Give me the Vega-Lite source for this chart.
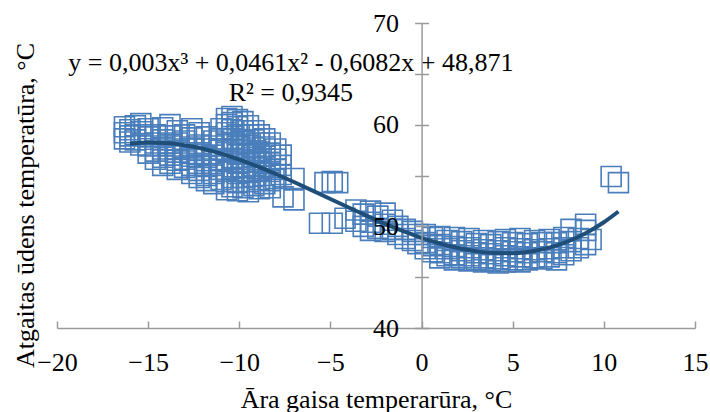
{
"$schema": "https://vega.github.io/schema/vega-lite/v6.json",
"width": 638, "height": 305,
"autosize": "none",
"padding": {"left": 57, "top": 23, "right": 15, "bottom": 84},
"background": "white",
"config": {"view": {"stroke": null}, "font": "Liberation Serif, Times New Roman, DejaVu Serif, serif"},
"datasets": {
"pts": [
{"x":-16.3,"y":59.2},{"x":-16.3,"y":58.6},{"x":-16.3,"y":59.8},
{"x":-16.0,"y":59.5},{"x":-16.0,"y":58.9},{"x":-16.0,"y":58.3},
{"x":-15.7,"y":59.9},{"x":-15.7,"y":59.0},{"x":-15.7,"y":58.5},
{"x":-15.4,"y":59.3},{"x":-15.4,"y":58.0},{"x":-15.4,"y":60.1},
{"x":-15.0,"y":59.6},{"x":-15.0,"y":58.8},{"x":-15.0,"y":57.9},{"x":-15.0,"y":57.2},
{"x":-14.6,"y":59.0},{"x":-14.6,"y":58.2},{"x":-14.6,"y":57.4},{"x":-14.6,"y":56.6},
{"x":-14.2,"y":59.7},{"x":-14.2,"y":58.5},{"x":-14.2,"y":57.6},{"x":-14.2,"y":56.8},{"x":-14.2,"y":56.0},
{"x":-13.8,"y":60.0},{"x":-13.8,"y":58.9},{"x":-13.8,"y":57.9},{"x":-13.8,"y":57.0},{"x":-13.8,"y":56.2},
{"x":-13.4,"y":59.4},{"x":-13.4,"y":58.2},{"x":-13.4,"y":57.3},{"x":-13.4,"y":56.5},{"x":-13.4,"y":55.6},
{"x":-13.0,"y":59.0},{"x":-13.0,"y":58.4},{"x":-13.0,"y":57.6},{"x":-13.0,"y":56.6},{"x":-13.0,"y":55.8},
{"x":-12.6,"y":59.6},{"x":-12.6,"y":58.7},{"x":-12.6,"y":57.8},{"x":-12.6,"y":56.9},{"x":-12.6,"y":56.0},{"x":-12.6,"y":55.2},
{"x":-12.2,"y":59.2},{"x":-12.2,"y":58.0},{"x":-12.2,"y":57.1},{"x":-12.2,"y":56.2},{"x":-12.2,"y":55.5},{"x":-12.2,"y":54.8},
{"x":-11.8,"y":58.8},{"x":-11.8,"y":57.6},{"x":-11.8,"y":56.8},{"x":-11.8,"y":55.9},{"x":-11.8,"y":55.0},{"x":-11.8,"y":54.5},
{"x":-11.4,"y":58.4},{"x":-11.4,"y":57.9},{"x":-11.4,"y":57.0},{"x":-11.4,"y":56.0},{"x":-11.4,"y":55.2},{"x":-11.4,"y":54.2},
{"x":-11.0,"y":59.6},{"x":-11.0,"y":58.6},{"x":-11.0,"y":57.5},{"x":-11.0,"y":56.5},{"x":-11.0,"y":55.6},{"x":-11.0,"y":54.6},
{"x":-10.7,"y":60.6},{"x":-10.7,"y":60.0},{"x":-10.7,"y":59.2},{"x":-10.7,"y":58.2},{"x":-10.7,"y":57.3},{"x":-10.7,"y":56.4},{"x":-10.7,"y":55.4},{"x":-10.7,"y":54.4},{"x":-10.7,"y":53.6},
{"x":-10.4,"y":60.8},{"x":-10.4,"y":60.2},{"x":-10.4,"y":59.5},{"x":-10.4,"y":58.6},{"x":-10.4,"y":57.6},{"x":-10.4,"y":56.7},{"x":-10.4,"y":55.7},{"x":-10.4,"y":54.8},{"x":-10.4,"y":53.9},
{"x":-10.1,"y":60.5},{"x":-10.1,"y":59.8},{"x":-10.1,"y":59.0},{"x":-10.1,"y":58.0},{"x":-10.1,"y":57.1},{"x":-10.1,"y":56.2},{"x":-10.1,"y":55.2},{"x":-10.1,"y":54.3},{"x":-10.1,"y":53.5},
{"x":-9.8,"y":60.3},{"x":-9.8,"y":59.4},{"x":-9.8,"y":58.4},{"x":-9.8,"y":57.5},{"x":-9.8,"y":56.6},{"x":-9.8,"y":55.8},{"x":-9.8,"y":54.8},{"x":-9.8,"y":53.8},
{"x":-9.5,"y":59.9},{"x":-9.5,"y":59.0},{"x":-9.5,"y":58.1},{"x":-9.5,"y":57.2},{"x":-9.5,"y":56.3},{"x":-9.5,"y":55.3},{"x":-9.5,"y":54.4},{"x":-9.5,"y":53.4},
{"x":-9.2,"y":59.4},{"x":-9.2,"y":58.5},{"x":-9.2,"y":57.7},{"x":-9.2,"y":56.8},{"x":-9.2,"y":55.9},{"x":-9.2,"y":54.9},{"x":-9.2,"y":54.0},
{"x":-8.9,"y":59.0},{"x":-8.9,"y":58.2},{"x":-8.9,"y":57.3},{"x":-8.9,"y":56.4},{"x":-8.9,"y":55.5},{"x":-8.9,"y":54.6},{"x":-8.9,"y":53.7},
{"x":-8.6,"y":58.6},{"x":-8.6,"y":57.8},{"x":-8.6,"y":56.9},{"x":-8.6,"y":55.9},{"x":-8.6,"y":55.0},{"x":-8.6,"y":54.2},
{"x":-8.3,"y":58.2},{"x":-8.3,"y":57.2},{"x":-8.3,"y":56.3},{"x":-8.3,"y":55.4},{"x":-8.3,"y":54.5},{"x":-8.3,"y":53.8},
{"x":-8.0,"y":57.6},{"x":-8.0,"y":56.6},{"x":-8.0,"y":55.6},{"x":-8.0,"y":54.7},
{"x":-7.7,"y":57.0},{"x":-7.7,"y":56.0},{"x":-7.7,"y":55.1},
{"x":-7.0,"y":54.7},{"x":-7.0,"y":52.6},{"x":-7.6,"y":52.9},
{"x":-5.3,"y":54.3},{"x":-4.9,"y":54.4},{"x":-4.6,"y":54.3},
{"x":-5.6,"y":50.3},{"x":-4.9,"y":50.3},{"x":-4.2,"y":50.8},
{"x":-3.6,"y":51.6},{"x":-3.6,"y":50.5},{"x":-3.2,"y":51.2},{"x":-3.2,"y":50.0},
{"x":-2.8,"y":51.5},{"x":-2.8,"y":50.4},{"x":-2.8,"y":49.6},{"x":-2.4,"y":51.0},{"x":-2.4,"y":49.8},
{"x":-2.0,"y":51.3},{"x":-2.0,"y":50.2},{"x":-2.0,"y":49.5},{"x":-1.6,"y":50.6},{"x":-1.6,"y":49.7},
{"x":-1.3,"y":50.0},{"x":-1.3,"y":49.2},{"x":-0.9,"y":49.7},{"x":-0.9,"y":48.8},
{"x":-0.5,"y":49.5},{"x":-0.5,"y":48.6},{"x":-0.2,"y":49.2},{"x":-0.2,"y":48.3},
{"x":0.2,"y":49.2},{"x":0.2,"y":48.4},{"x":0.2,"y":47.8},
{"x":0.6,"y":48.9},{"x":0.6,"y":48.1},{"x":0.6,"y":47.5},
{"x":1.0,"y":49.0},{"x":1.0,"y":48.2},{"x":1.0,"y":47.4},{"x":1.0,"y":46.9},
{"x":1.4,"y":48.6},{"x":1.4,"y":47.8},{"x":1.4,"y":47.1},
{"x":1.8,"y":48.9},{"x":1.8,"y":48.0},{"x":1.8,"y":47.2},{"x":1.8,"y":46.7},
{"x":2.2,"y":48.5},{"x":2.2,"y":47.6},{"x":2.2,"y":46.9},
{"x":2.6,"y":48.8},{"x":2.6,"y":47.9},{"x":2.6,"y":47.1},{"x":2.6,"y":46.6},
{"x":3.0,"y":48.3},{"x":3.0,"y":47.4},{"x":3.0,"y":46.7},
{"x":3.4,"y":48.6},{"x":3.4,"y":47.7},{"x":3.4,"y":46.9},{"x":3.4,"y":46.5},
{"x":3.8,"y":48.2},{"x":3.8,"y":47.3},{"x":3.8,"y":46.6},
{"x":4.2,"y":48.5},{"x":4.2,"y":47.6},{"x":4.2,"y":46.8},{"x":4.2,"y":46.4},
{"x":4.6,"y":48.7},{"x":4.6,"y":47.9},{"x":4.6,"y":47.1},{"x":4.6,"y":46.5},
{"x":5.0,"y":48.4},{"x":5.0,"y":47.5},{"x":5.0,"y":46.7},
{"x":5.4,"y":48.8},{"x":5.4,"y":47.8},{"x":5.4,"y":47.0},{"x":5.4,"y":46.5},
{"x":5.8,"y":48.3},{"x":5.8,"y":47.4},{"x":5.8,"y":46.7},
{"x":6.2,"y":48.6},{"x":6.2,"y":47.7},{"x":6.2,"y":46.9},
{"x":6.6,"y":48.4},{"x":6.6,"y":47.5},{"x":6.6,"y":46.8},
{"x":7.0,"y":48.7},{"x":7.0,"y":47.8},{"x":7.0,"y":47.0},
{"x":7.4,"y":48.4},{"x":7.4,"y":47.4},{"x":7.4,"y":46.7},
{"x":7.8,"y":48.9},{"x":7.8,"y":47.9},{"x":7.8,"y":47.2},
{"x":8.2,"y":49.7},{"x":8.2,"y":48.5},{"x":8.2,"y":47.6},
{"x":8.6,"y":48.8},{"x":8.6,"y":47.9},
{"x":9.0,"y":50.2},{"x":9.0,"y":49.6},{"x":9.0,"y":48.2},
{"x":9.3,"y":48.7},
{"x":10.4,"y":54.9},{"x":10.8,"y":54.3}
],
"trend": [
{"x":-16,"y":58.116},{"x":-15,"y":58.242},{"x":-14,"y":58.189},{"x":-13,"y":57.977},
{"x":-12,"y":57.624},{"x":-11,"y":57.146},{"x":-10,"y":56.563},{"x":-9,"y":55.892},
{"x":-8,"y":55.151},{"x":-7,"y":54.358},{"x":-6,"y":53.532},{"x":-5,"y":52.690},
{"x":-4,"y":51.850},{"x":-3,"y":51.029},{"x":-2,"y":50.248},{"x":-1,"y":49.522},
{"x":0,"y":48.871},{"x":1,"y":48.312},{"x":2,"y":47.863},{"x":3,"y":47.541},
{"x":4,"y":47.368},{"x":5,"y":47.358},{"x":6,"y":47.529},{"x":7,"y":47.902},
{"x":8,"y":48.492},{"x":9,"y":49.318},{"x":10,"y":50.399},{"x":10.8,"y":51.458}
],
"eq": [
{"label":"y = 0,003x³ + 0,0461x² - 0,6082x + 48,871","x":-7.17,"y":65.26},
{"label":"R² = 0,9345","x":-7.17,"y":62.3}
]
},
"layer": [
{
"data": {"name": "pts"},
"mark": {"type": "point", "shape": "square", "size": 400, "filled": false, "stroke": "#4a7ebb", "strokeWidth": 1.6, "opacity": 1},
"encoding": {
"x": {"field": "x", "type": "quantitative",
"scale": {"domain": [-20, 15], "nice": false, "zero": false},
"axis": {"orient": "bottom", "values": [-20,-15,-10,-5,0,5,10,15], "ticks": false, "tickSize": 0, "grid": false,
"domainColor": "#9a9a9a", "domainWidth": 1.5,
"labelFont": "Liberation Serif, Times New Roman, DejaVu Serif, serif", "labelFontSize": 26, "labelColor": "#000000", "labelBaseline": "alphabetic", "labelPadding": 42, "labelFlush": false,
"title": "Āra gaisa temperarūra, °C", "titleFont": "Liberation Serif, Times New Roman, DejaVu Serif, serif", "titleFontSize": 26, "titleFontWeight": "normal", "titleColor": "#000000",
"titleBaseline": "alphabetic", "titleY": 79}},
"y": {"field": "y", "type": "quantitative",
"scale": {"domain": [40, 70], "nice": false, "zero": false},
"axis": {"orient": "left", "offset": -364.6, "zindex": 1, "values": [40,45,50,55,60,65,70], "grid": false,
"labelExpr": "datum.value % 10 == 0 ? datum.label : ''",
"ticks": true, "tickSize": 7, "tickColor": "#9a9a9a", "tickWidth": 1.5,
"domainColor": "#9a9a9a", "domainWidth": 1.5,
"labelFont": "Liberation Serif, Times New Roman, DejaVu Serif, serif", "labelFontSize": 26, "labelColor": "#000000", "labelPadding": 16, "labelBaseline": "middle", "labelFlush": false,
"title": "Atgaitas ūdens temperatūra, °C", "titleFont": "Liberation Serif, Times New Roman, DejaVu Serif, serif", "titleFontSize": 26, "titleFontWeight": "normal", "titleColor": "#000000",
"titleBaseline": "alphabetic", "titleAngle": -90, "titleX": -388.6, "titleY": 182}}
}
},
{
"data": {"name": "trend"},
"mark": {"type": "line", "color": "#1f4e79", "strokeWidth": 4, "interpolate": "monotone"},
"encoding": {
"x": {"field": "x", "type": "quantitative",
"axis": {"orient": "top", "offset": -305, "values": [-20,-15,-10,-5,0,5,10,15], "labels": false, "domain": false, "grid": false,
"ticks": true, "tickSize": 7, "tickColor": "#9a9a9a", "tickWidth": 1.5, "title": null}},
"y": {"field": "y", "type": "quantitative",
"axis": {"orient": "right", "offset": -273.4, "zindex": 1, "values": [40,45,50,55,60,65,70], "labels": false, "domain": false, "grid": false,
"ticks": true, "tickSize": 7, "tickColor": "#9a9a9a", "tickWidth": 1.5, "title": null}}
}
},
{
"data": {"name": "eq"},
"mark": {"type": "text", "font": "Liberation Serif, Times New Roman, DejaVu Serif, serif", "fontSize": 26, "align": "center", "baseline": "alphabetic", "color": "#000000"},
"encoding": {
"x": {"field": "x", "type": "quantitative", "axis": null},
"y": {"field": "y", "type": "quantitative", "axis": null},
"text": {"field": "label"}
}
}
],
"resolve": {"axis": {"x": "independent", "y": "independent"}}
}
